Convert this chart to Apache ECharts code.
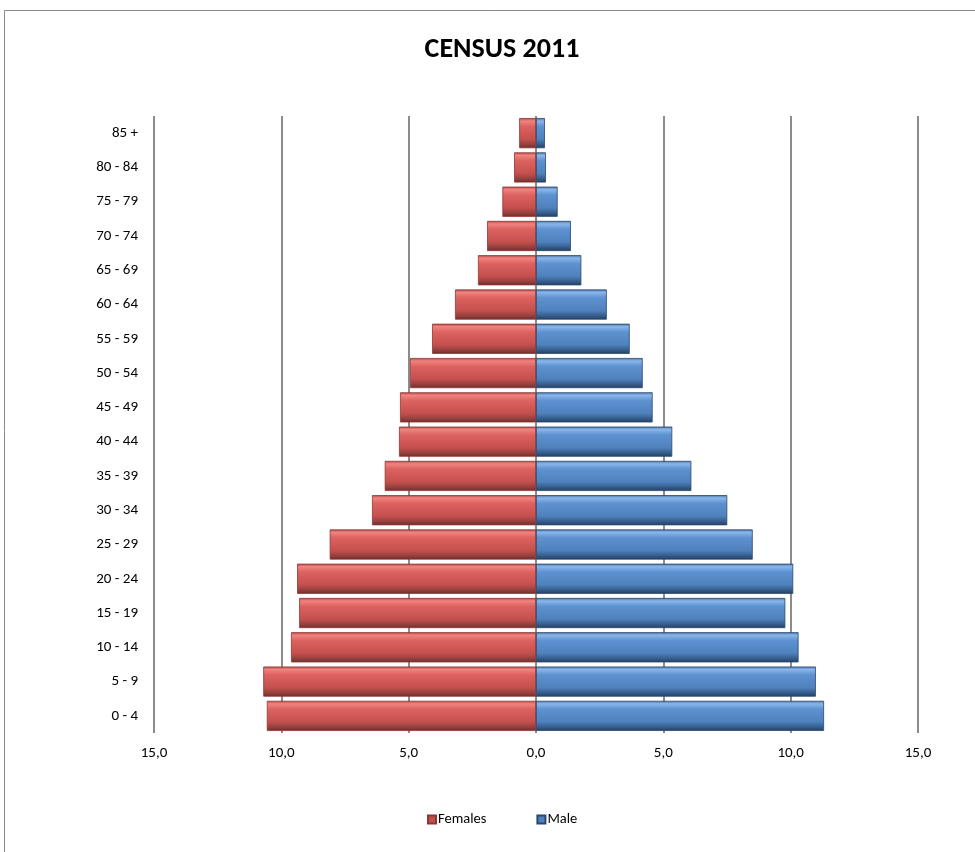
<!DOCTYPE html>
<html>
<head>
<meta charset="utf-8">
<script src="https://cdn.jsdelivr.net/npm/echarts@6/dist/echarts.min.js"></script>
<style>html,body{margin:0;padding:0;background:#fff;}#c{width:975px;height:852px;}</style>
</head>
<body>
<div id="c"></div>
<script>
const categories = ['0 - 4','5 - 9','10 - 14','15 - 19','20 - 24','25 - 29','30 - 34','35 - 39','40 - 44','45 - 49','50 - 54','55 - 59','60 - 64','65 - 69','70 - 74','75 - 79','80 - 84','85 +'];
const females = [10.57,10.71,9.62,9.30,9.38,8.10,6.44,5.94,5.38,5.34,4.95,4.08,3.18,2.28,1.92,1.32,0.86,0.66];
const males = [11.31,10.99,10.31,9.79,10.10,8.51,7.51,6.10,5.35,4.58,4.19,3.68,2.78,1.78,1.37,0.85,0.39,0.35];
const xTicks = {min:-15, max:15, interval:5};

const FONT = "Carlito, Calibri, 'Open Sans', sans-serif";
function grad(c){
  return new echarts.graphic.LinearGradient(0,0,0,1,[
    {offset:0,color:c[0]},{offset:0.1,color:c[1]},{offset:0.28,color:c[2]},
    {offset:0.7,color:c[3]},{offset:0.88,color:c[4]},{offset:1,color:c[5]}]);
}
const redG = grad(['#b24845','#f08480','#dc625f','#c4504d','#93403e','#6e2c2a']);
const blueG = grad(['#4774aa','#8ab6ea','#5d91d0','#4f81bd','#355b89','#243f62']);

const chart = echarts.init(document.getElementById('c'), null, {renderer:'canvas'});
chart.setOption({
  animation:false,
  backgroundColor:'#fff',
  graphic:[{type:'rect',shape:{x:4.5,y:10.5,width:1000,height:900},style:{fill:'none',stroke:'#8a8a8a',lineWidth:1},silent:true,z:-1}],
  title:{text:'CENSUS 2011',left:497,top:31,textAlign:'center',
    textStyle:{fontFamily:FONT,fontWeight:'bold',fontSize:28,color:'#000'}},
  legend:{bottom:20,left:422,itemWidth:8,itemHeight:8,itemGap:50,
    icon:'rect',
    textStyle:{fontFamily:FONT,fontSize:14.5,color:'#000',padding:[0,0,0,-3]},
    data:[{name:'Females',itemStyle:{color:'#c0504d'}},{name:'Male',itemStyle:{color:'#4f81bd'}}]},
  grid:{left:154,right:57,top:116,bottom:119,containLabel:false},
  xAxis:{type:'value',min:xTicks.min,max:xTicks.max,interval:xTicks.interval,
    axisLine:{show:false},axisTick:{show:false},
    axisLabel:{margin:13,fontFamily:FONT,fontSize:15,color:'#000',
      formatter:v=>Math.abs(v).toFixed(1).replace('.',',')},
    splitLine:{show:true,lineStyle:{color:'#8c8c8c',width:2}}},
  yAxis:{type:'category',data:categories,
    axisLine:{show:false},axisTick:{show:false},
    axisLabel:{margin:16,fontFamily:FONT,fontSize:15,color:'#000'}},
  series:[
    {name:'Females',type:'bar',data:females.map(v=>-v),barGap:'-100%',barCategoryGap:'12%',
      itemStyle:{color:redG,borderColor:'#8f3634',borderWidth:0.8}},
    {name:'Male',type:'bar',data:males,barGap:'-100%',barCategoryGap:'12%',
      itemStyle:{color:blueG,borderColor:'#2a476c',borderWidth:0.8}}
  ]
});
</script>
</body>
</html>
